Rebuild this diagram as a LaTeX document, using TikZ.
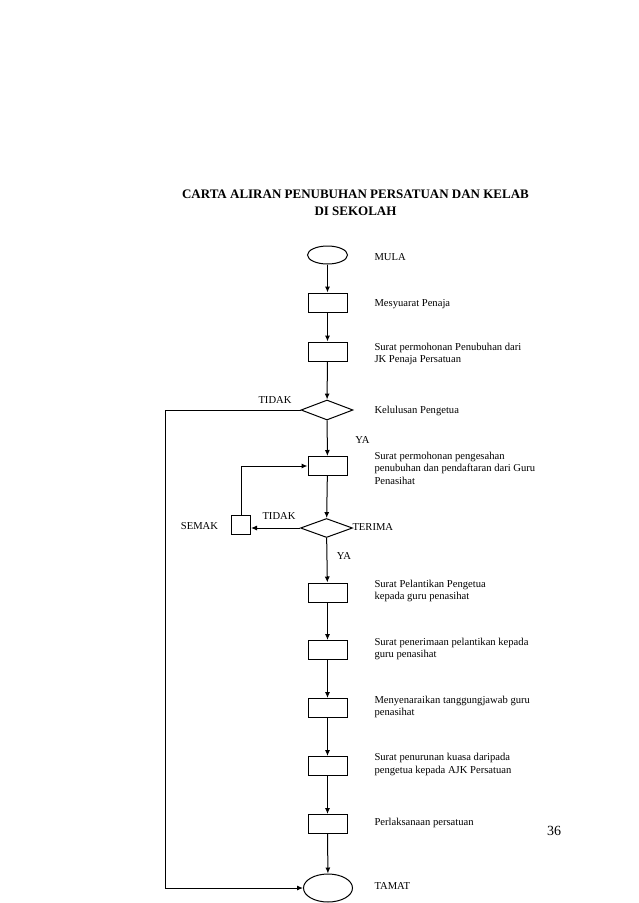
\documentclass[tikz,border=0pt]{standalone}
\usepackage{fontspec}
\setmainfont{Liberation Serif}
\usetikzlibrary{shapes.geometric,arrows.meta}
\begin{document}
\begin{tikzpicture}[x=1pt,y=-1pt,
  every path/.style={line width=1pt},
  proc/.style={draw, rectangle, minimum width=39pt, minimum height=19pt, inner sep=0pt},
  term/.style={draw, ellipse, inner sep=0pt},
  decide/.style={draw, diamond, minimum width=52pt, minimum height=20pt, inner sep=0pt},
  desc/.style={anchor=west, align=left, inner sep=0pt, font=\fontsize{10.6}{12.5}\selectfont},
  lbl/.style={inner sep=0pt, font=\fontsize{10.6}{12.5}\selectfont},
  flow/.style={-{Latex[length=6pt,width=5pt]}}
]
\path[use as bounding box] (0,0) rectangle (638,903);

% title
\node[inner sep=0pt, align=center, font=\bfseries\fontsize{13}{16.5}\selectfont] (title) at (355.5,203)
  {CARTA ALIRAN PENUBUHAN PERSATUAN DAN KELAB\\DI SEKOLAH};

% shapes
\node[term, minimum width=40pt, minimum height=18pt] (mula) at (327.5,255) {};
\node[proc] (r1) at (327.5,302.5) {};
\node[proc] (r2) at (327.5,351.5) {};
\node[decide] (d1) at (327,410) {};
\node[proc] (r3) at (327.5,466) {};
\node[decide, minimum height=19pt] (d2) at (326.5,528) {};
\node[draw, rectangle, minimum width=19pt, minimum height=19pt, inner sep=0pt] (semak) at (241,524.5) {};
\node[proc] (r4) at (327.5,592.5) {};
\node[proc] (r5) at (327.5,650) {};
\node[proc] (r6) at (327.5,708) {};
\node[proc] (r7) at (327.5,766) {};
\node[proc] (r8) at (327.5,824) {};
\node[term, minimum width=49pt, minimum height=28pt] (tamat) at (328,888) {};
\coordinate (lb) at (165,888);

% descriptions
\node[desc] (t0) at (374,257.5) {MULA};
\node[desc] (t1) at (374,304.5) {Mesyuarat Penaja};
\node[desc] (t2) at (374,354) {Surat permohonan Penubuhan dari\\JK Penaja Persatuan};
\node[desc] (t3) at (374,411) {Kelulusan Pengetua};
\node[desc] (t4) at (374,468) {Surat permohonan pengesahan\\penubuhan dan pendaftaran dari Guru\\Penasihat};
\node[desc] (t5) at (352,527) {TERIMA};
\node[desc] (t6) at (374,591) {Surat Pelantikan Pengetua\\kepada guru penasihat};
\node[desc] (t7) at (374,649) {Surat penerimaan pelantikan kepada\\guru penasihat};
\node[desc] (t8) at (374,707) {Menyenaraikan tanggungjawab guru\\penasihat};
\node[desc] (t9) at (374,764.5) {Surat penurunan kuasa daripada\\pengetua kepada AJK Persatuan};
\node[desc] (t10) at (374,823) {Perlaksanaan persatuan};
\node[desc] (t11) at (374,886) {TAMAT};

% labels
\node[lbl] (tidak1) at (275,400) {TIDAK};
\node[lbl] (ya1) at (362.5,440) {YA};
\node[lbl] (tidak2) at (279,516.5) {TIDAK};
\node[lbl] (semakl) at (199.5,526.5) {SEMAK};
\node[lbl] (ya2) at (344,555.5) {YA};
\node[inner sep=0pt, font=\fontsize{14}{16}\selectfont] (page) at (554,831) {36};

% connectors
\draw[flow] (mula) -- (r1);
\draw[flow] (r1) -- (r2);
\draw[flow] (r2) -- (d1);
\draw[flow] (d1) -- (r3);
\draw[flow] (r3) -- (d2);
\draw[flow] (d2.west) -- (d2.west -| semak.east);
\draw[flow] (semak.north) |- (r3.west);
\draw[flow] (d2) -- (r4);
\draw[flow] (r4) -- (r5);
\draw[flow] (r5) -- (r6);
\draw[flow] (r6) -- (r7);
\draw[flow] (r7) -- (r8);
\draw[flow] (r8) -- (tamat);
\draw[flow] (d1.west) -| (lb) -- (tamat.west);
\end{tikzpicture}
\end{document}
